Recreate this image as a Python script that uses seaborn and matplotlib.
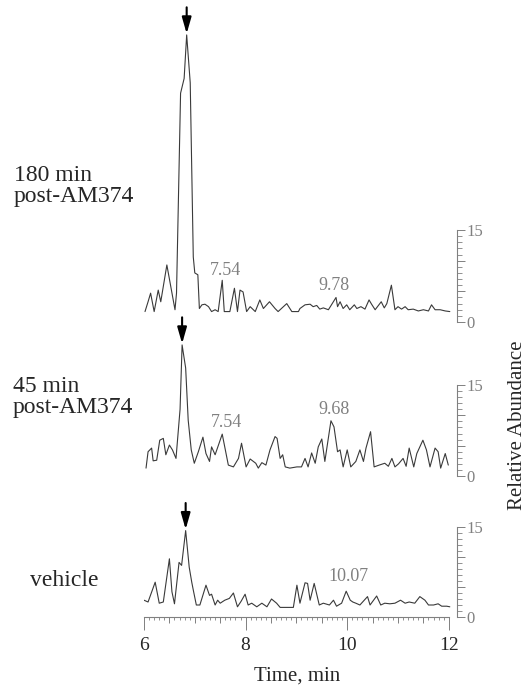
import matplotlib
matplotlib.use("Agg")
import matplotlib.pyplot as plt
import matplotlib.ticker as mticker
import pandas as pd
import seaborn as sns

# chromatogram traces (time in min, relative abundance)
t_180 = [6.02, 6.08, 6.13, 6.20, 6.28, 6.33, 6.45, 6.61, 6.64, 6.72, 6.79, 6.84, 6.91, 6.97,
         7.00, 7.06, 7.09, 7.14, 7.20, 7.27, 7.33, 7.40, 7.46, 7.54, 7.58, 7.63, 7.69, 7.78,
         7.84, 7.89, 7.95, 8.02, 8.09, 8.19, 8.28, 8.35, 8.47, 8.58, 8.64, 8.81, 8.91, 9.04,
         9.07, 9.17, 9.27, 9.33, 9.40, 9.46, 9.53, 9.63, 9.69, 9.78, 9.81, 9.86, 9.92, 9.99,
         10.05, 10.14, 10.19, 10.27, 10.35, 10.43, 10.48, 10.55, 10.67, 10.73, 10.78, 10.87,
         10.94, 11.00, 11.07, 11.14, 11.20, 11.30, 11.40, 11.50, 11.60, 11.66, 11.73, 11.83,
         11.93, 12.02]
ab_180 = [1.7, 3.3, 4.7, 1.7, 5.2, 3.3, 9.3, 2.0, 4.7, 37.3, 39.7, 46.8, 39.0, 10.6,
          8.0, 7.7, 2.2, 2.8, 2.9, 2.5, 1.7, 2.0, 1.7, 6.8, 1.7, 1.7, 1.7, 5.5,
          1.7, 5.2, 4.9, 1.7, 2.5, 1.7, 3.6, 2.2, 3.3, 2.2, 1.7, 3.0, 1.7, 1.7,
          2.2, 2.8, 2.9, 2.5, 2.7, 2.1, 2.3, 2.0, 2.8, 4.0, 2.5, 3.3, 2.2, 2.8,
          2.0, 2.8, 2.2, 2.5, 2.1, 3.6, 2.9, 2.0, 3.3, 2.3, 3.0, 6.0,
          2.0, 2.5, 2.1, 2.5, 2.0, 2.1, 1.8, 2.0, 1.8, 2.8, 2.0, 2.0,
          1.8, 1.7]

t_45 = [6.04, 6.08, 6.15, 6.18, 6.25, 6.31, 6.38, 6.43, 6.50, 6.56, 6.63, 6.71, 6.75, 6.82,
        6.87, 6.93, 6.99, 7.07, 7.16, 7.22, 7.29, 7.33, 7.40, 7.54, 7.66, 7.76, 7.86, 7.92,
        8.01, 8.09, 8.20, 8.25, 8.32, 8.40, 8.48, 8.58, 8.62, 8.68, 8.73, 8.78, 8.87, 9.01,
        9.10, 9.17, 9.23, 9.30, 9.37, 9.43, 9.50, 9.56, 9.68, 9.74, 9.81, 9.86, 9.92, 10.00,
        10.07, 10.17, 10.25, 10.32, 10.37, 10.46, 10.53, 10.63, 10.74, 10.81, 10.88, 10.94,
        11.01, 11.10, 11.16, 11.22, 11.31, 11.37, 11.49, 11.56, 11.63, 11.73, 11.79, 11.84,
        11.93, 11.99]
ab_45 = [1.3, 4.0, 4.6, 2.5, 2.6, 5.9, 6.2, 3.5, 5.1, 4.3, 2.9, 11.0, 21.6, 17.8,
         9.2, 4.3, 2.1, 4.0, 6.4, 3.7, 2.4, 4.8, 3.5, 6.9, 1.8, 1.5, 2.9, 5.4,
         1.5, 2.8, 2.1, 1.3, 2.2, 1.8, 4.3, 6.5, 6.2, 2.9, 3.5, 1.5, 1.3, 1.5,
         1.5, 2.9, 1.5, 3.8, 2.1, 4.8, 6.1, 2.4, 9.1, 8.1, 4.0, 4.3, 1.5, 4.3,
         1.5, 2.4, 4.3, 2.4, 4.6, 7.3, 1.5, 1.8, 2.1, 1.6, 2.9, 1.5,
         2.0, 2.9, 1.6, 4.6, 1.5, 3.7, 5.9, 4.3, 1.5, 4.6, 4.0, 1.3,
         3.7, 1.8]

t_veh = [6.00, 6.08, 6.22, 6.30, 6.38, 6.50, 6.55, 6.60, 6.69, 6.74, 6.82, 6.89, 6.94, 6.97,
         7.03, 7.10, 7.22, 7.29, 7.33, 7.40, 7.45, 7.50, 7.59, 7.68, 7.76, 7.84, 7.91, 7.99,
         8.05, 8.12, 8.22, 8.32, 8.42, 8.51, 8.61, 8.68, 8.94, 9.01, 9.07, 9.17, 9.22, 9.27,
         9.35, 9.45, 9.53, 9.65, 9.73, 9.79, 9.89, 9.98, 10.06, 10.11, 10.17, 10.25, 10.40,
         10.45, 10.58, 10.66, 10.74, 10.84, 10.94, 11.05, 11.14, 11.22, 11.33, 11.43, 11.53,
         11.60, 11.70, 11.79, 11.86, 11.96, 12.02]
ab_veh = [2.8, 2.5, 5.8, 2.3, 2.5, 9.7, 4.2, 2.2, 9.1, 8.6, 14.4, 8.3, 5.8, 4.5,
          2.0, 2.0, 5.3, 3.6, 3.8, 2.0, 2.8, 2.3, 2.8, 3.1, 4.0, 1.7, 2.6, 3.8,
          2.0, 2.3, 1.7, 2.3, 1.7, 3.0, 2.3, 1.6, 1.6, 5.3, 2.3, 5.7, 5.6, 2.8,
          5.6, 2.0, 2.3, 2.0, 2.8, 1.8, 2.3, 4.3, 2.8, 2.5, 2.3, 2.0, 3.4,
          2.0, 3.5, 2.0, 2.3, 2.2, 2.3, 2.8, 2.3, 2.5, 2.3, 3.4, 2.8,
          2.0, 2.0, 2.2, 1.8, 1.8, 1.7]

sample_names = ["180 min\npost-AM374", "45 min\npost-AM374", "vehicle"]
# marked peak (arrow) per sample
arrow_t = [6.84, 6.75, 6.82]
arrow_v = [47.0, 21.8, 14.6]
# retention-time labels per sample: (text, time, height)
peak_labels = [[("7.54", 7.60, 8.4), ("9.78", 9.74, 6.0)],
               [("7.54", 7.63, 8.8), ("9.68", 9.74, 10.9)],
               [("10.07", 10.02, 6.7)]]

sns.set_style("white")
plt.rcParams["font.family"] = ["Liberation Serif", "DejaVu Serif"]

W, H = 531, 690
fig = plt.figure(figsize=(W / 100, H / 100), dpi=100)

# panel geometry in pixels: (y of zero, y top, ylim top)
panels = [(322, 15.3, 50), (476, 324.3, 25), (617, 509, 18)]
x_left, x_right = 144, 457
xmax = 6 + (x_right - x_left) / 50.8

traces = [(t_180, ab_180), (t_45, ab_45), (t_veh, ab_veh)]
grey = "#808080"
label_pos = [(14, 186), (13, 397), (30, 580)]

for i, ((y0, ytop, ymax), (tt, vv)) in enumerate(zip(panels, traces)):
    ax = fig.add_axes([x_left / W, (H - y0) / H, (x_right - x_left) / W, (y0 - ytop) / H])
    df = pd.DataFrame({"time": tt, "abundance": vv})
    sns.lineplot(data=df, x="time", y="abundance", ax=ax, color="#3a3a3a", lw=0.8,
                 sort=False, estimator=None)
    ax.set_xlim(6, xmax)
    ax.set_ylim(0, ymax)
    ax.set_xlabel("")
    ax.set_ylabel("")
    ax.patch.set_alpha(0)

    for s in ["left", "top"]:
        ax.spines[s].set_visible(False)
    ax.spines["right"].set_bounds(0, 15)
    ax.spines["right"].set_color(grey)
    ax.spines["right"].set_linewidth(0.8)
    ax.yaxis.tick_right()
    ax.yaxis.set_major_locator(mticker.FixedLocator([0, 5, 10, 15]))
    ax.yaxis.set_minor_locator(mticker.FixedLocator(list(range(16))))
    ax.set_yticklabels(["0", "", "", "15"])
    ax.tick_params(axis="y", which="both", left=False, right=True)
    ax.tick_params(axis="y", which="major", direction="out", length=6, width=0.7,
                   color=grey, labelcolor=grey, labelsize=12, pad=1)
    ax.tick_params(axis="y", which="minor", direction="out", length=3.5, width=0.6, color=grey)

    if i < 2:
        ax.spines["bottom"].set_visible(False)
        ax.set_xticks([])
    else:
        ax.spines["bottom"].set_bounds(6, 12)
        ax.spines["bottom"].set_color(grey)
        ax.spines["bottom"].set_linewidth(0.8)
        ax.xaxis.set_major_locator(mticker.MultipleLocator(0.5))
        ax.xaxis.set_minor_locator(mticker.MultipleLocator(0.1))
        ax.xaxis.set_major_formatter(mticker.FuncFormatter(
            lambda v, p: f"{v:.0f}" if abs(v - round(v)) < 1e-6 and round(v) % 2 == 0 else ""))
        ax.tick_params(axis="x", which="both", bottom=True, top=False)
        ax.tick_params(axis="x", which="major", direction="out", length=4.5, width=0.7,
                       color=grey, labelsize=14, pad=10)
        ax.tick_params(axis="x", which="minor", direction="out", length=2.2, width=0.6,
                       color=grey)
        ax.set_xlim(6, xmax)
        fig.canvas.draw()
        for tk in ax.xaxis.get_major_ticks():
            v = tk.get_loc()
            if abs(v - round(v)) < 1e-6 and round(v) % 2 == 0:
                tk.tick1line.set_markersize(9)
            if v > 12.01:
                tk.tick1line.set_visible(False)
        for tk in ax.xaxis.get_minor_ticks():
            if tk.get_loc() > 12.01:
                tk.tick1line.set_visible(False)

    ax.annotate("", xy=(arrow_t[i], arrow_v[i]), xytext=(0, 19), textcoords="offset points",
                xycoords="data", annotation_clip=False,
                arrowprops=dict(arrowstyle="-|>,head_width=0.2,head_length=0.7",
                                color="black", lw=1.5, shrinkA=0, shrinkB=0,
                                mutation_scale=14))

    for txt, pt, pv in peak_labels[i]:
        ax.text(pt, pv, txt, ha="center", va="center", color=grey, fontsize=13)

    lx, ly = label_pos[i]
    fig.text(lx / W, 1 - ly / H, sample_names[i],
             ha="left", va="center", fontsize=17, linespacing=1.05)

fig.text(297 / W, 1 - 676 / H, "Time, min", ha="center", va="center", fontsize=15)
fig.text(518 / W, 1 - 425 / H, "Relative Abundance", ha="center", va="center",
         rotation=90, fontsize=15)

fig.savefig("out.png", dpi=100)
